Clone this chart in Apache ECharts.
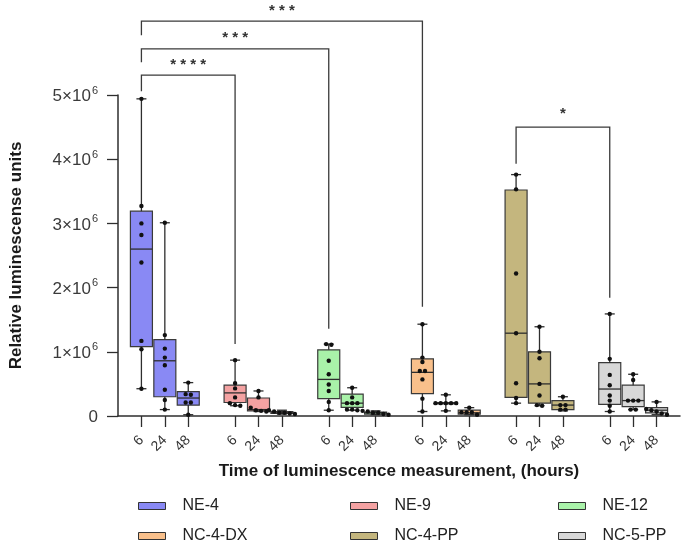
<!DOCTYPE html>
<html>
<head>
<meta charset="utf-8">
<script src="https://cdn.jsdelivr.net/npm/echarts@6/dist/echarts.min.js"></script>
<style>
  html, body { margin: 0; padding: 0; background: #fff; }
  #main { width: 685px; height: 549px; }
</style>
</head>
<body>
<div id="main"></div>
<script>
const groups = ['NE-4', 'NE-9', 'NE-12', 'NC-4-DX', 'NC-4-PP', 'NC-5-PP'];
const times = ['6', '24', '48'];
const yTickLabels = ['0', '1×10⁶', '2×10⁶', '3×10⁶', '4×10⁶', '5×10⁶'];
const boxColors = ['#8989f4', '#f4a2a2', '#a9f2a9', '#f9c08b', '#c4b67e', '#d8d8d8'];

// per time point: [min, Q1, median, Q3, max], units of 10^6 RLU
const ne4Stats = [[0.425, 1.08, 2.60, 3.19, 4.94], [0.10, 0.30, 0.86, 1.19, 3.01], [0.02, 0.17, 0.28, 0.38, 0.52]];
const ne9Stats = [[0.16, 0.21, 0.36, 0.48, 0.87], [0.07, 0.08, 0.10, 0.28, 0.39], [0.03, 0.04, 0.05, 0.07, 0.09]];
const ne12Stats = [[0.09, 0.27, 0.57, 1.03, 1.12], [0.09, 0.135, 0.20, 0.34, 0.44], [0.02, 0.03, 0.05, 0.06, 0.08]];
const nc4dxStats = [[0.07, 0.35, 0.68, 0.89, 1.43], [0.08, 0.19, 0.20, 0.21, 0.33], [0.02, 0.03, 0.05, 0.09, 0.13]];
const nc4ppStats = [[0.20, 0.29, 1.29, 3.52, 3.76], [0.16, 0.20, 0.50, 1.00, 1.39], [0.08, 0.10, 0.17, 0.24, 0.30]];
const nc5ppStats = [[0.07, 0.18, 0.42, 0.83, 1.59], [0.10, 0.145, 0.24, 0.48, 0.65], [0.02, 0.05, 0.09, 0.13, 0.22]];

// individual replicates
const ne4Points = [[4.94, 3.27, 3.00, 2.82, 2.39, 1.17, 1.04, 0.425], [3.01, 1.26, 1.05, 0.91, 0.79, 0.41, 0.25, 0.10], [0.52, 0.34, 0.33, 0.21, 0.21, 0.02]];
const ne9Points = [[0.87, 0.51, 0.43, 0.29, 0.20, 0.17, 0.16], [0.39, 0.29, 0.13, 0.09, 0.08, 0.07], [0.09, 0.07, 0.05, 0.05, 0.04, 0.03]];
const ne12Points = [[1.12, 1.11, 0.86, 0.65, 0.49, 0.39, 0.22, 0.09], [0.44, 0.29, 0.20, 0.20, 0.20, 0.10, 0.10, 0.09], [0.08, 0.07, 0.05, 0.05, 0.03, 0.02]];
const nc4dxPoints = [[1.43, 0.91, 0.84, 0.70, 0.70, 0.57, 0.27, 0.07], [0.33, 0.20, 0.20, 0.20, 0.20, 0.20, 0.08], [0.13, 0.06, 0.06, 0.06, 0.02]];
const nc4ppPoints = [[3.76, 3.53, 2.22, 1.29, 0.51, 0.28, 0.20], [1.39, 1.00, 0.90, 0.50, 0.32, 0.17, 0.16], [0.30, 0.17, 0.17, 0.10, 0.10]];
const nc5ppPoints = [[1.59, 0.89, 0.64, 0.48, 0.32, 0.24, 0.16, 0.07], [0.65, 0.56, 0.24, 0.24, 0.24, 0.10, 0.10], [0.22, 0.11, 0.09, 0.07, 0.04, 0.02]];

// significance brackets between 6 h boxes: [from group, to group]
const bracketPairs = [[0, 1], [0, 2], [0, 3], [4, 5]];
// [bar level, left leg end, right leg end, stars level]
const bracketLevels = [[5.31, 5.06, 1.12, 5.50], [5.72, 5.51, 1.36, 5.92], [6.15, 5.93, 1.70, 6.34], [4.50, 3.93, 1.84, 4.74]];
const bracketStars = ['* * * *', '* * *', '* * *', '*'];

const statsByGroup = [ne4Stats, ne9Stats, ne12Stats, nc4dxStats, nc4ppStats, nc5ppStats];
const pointsByGroup = [ne4Points, ne9Points, ne12Points, nc4dxPoints, nc4ppPoints, nc5ppPoints];

// x axis: blank slot at start, then 6h/24h/48h + blank for every group
const xCategories = [''];
groups.forEach(() => { times.forEach(t => xCategories.push(t)); xCategories.push(''); });
const catIndex = (g, t) => 1 + g * 4 + t;

const FONT = "'Liberation Sans', Arial, sans-serif";
const INK = '#2e2e2e';

function swarmOffsets(ys) {
  // spread dots that sit on the same height, like a column scatter
  const order = ys.map((y, i) => i).sort((a, b) => ys[a] - ys[b]);
  const offs = new Array(ys.length).fill(0);
  let cluster = [];
  const flush = () => {
    cluster.forEach((idx, k) => { offs[idx] = (k - (cluster.length - 1) / 2) * 5.2; });
    cluster = [];
  };
  order.forEach(idx => {
    if (cluster.length && ys[idx] - ys[cluster[cluster.length - 1]] > 3.5) flush();
    cluster.push(idx);
  });
  flush();
  return offs;
}

function boxRenderer(g) {
  return function (params, api) {
    const x = api.value(0);
    const lo = api.value(1), q1 = api.value(2), med = api.value(3), q3 = api.value(4), hi = api.value(5);
    const cx = api.coord([x, med])[0];
    const yOf = v => api.coord([x, v])[1];
    const half = api.size([1, 0])[0] * 0.47;
    const cap = 5;
    const line = { stroke: INK, lineWidth: 1.3 };
    const kids = [
      { type: 'rect', shape: { x: cx - half, y: yOf(q3), width: half * 2, height: Math.max(yOf(q1) - yOf(q3), 1) },
        style: { fill: api.visual('color'), stroke: '#3a3a3a', lineWidth: 1.2 } },
      { type: 'line', shape: { x1: cx - half, y1: yOf(med), x2: cx + half, y2: yOf(med) }, style: line },
      { type: 'line', shape: { x1: cx, y1: yOf(q3), x2: cx, y2: yOf(hi) }, style: line },
      { type: 'line', shape: { x1: cx, y1: yOf(q1), x2: cx, y2: yOf(lo) }, style: line },
      { type: 'line', shape: { x1: cx - cap, y1: yOf(hi), x2: cx + cap, y2: yOf(hi) }, style: line },
      { type: 'line', shape: { x1: cx - cap, y1: yOf(lo), x2: cx + cap, y2: yOf(lo) }, style: line }
    ];
    const pts = pointsByGroup[g][params.dataIndex];
    const ys = pts.map(yOf);
    const offs = swarmOffsets(ys);
    ys.forEach((py, i) => {
      kids.push({ type: 'circle', shape: { cx: cx + offs[i], cy: py, r: 2.2 }, style: { fill: '#111' } });
    });
    return { type: 'group', children: kids };
  };
}

const boxSeries = groups.map((name, g) => ({
  name: name,
  type: 'custom',
  itemStyle: { color: boxColors[g], borderColor: '#333', borderWidth: 1 },
  data: statsByGroup[g].map((s, t) => [catIndex(g, t)].concat(s)),
  encode: { x: 0, y: [1, 2, 3, 4, 5] },
  renderItem: boxRenderer(g),
  z: 2
}));

const bracketSeries = {
  type: 'custom',
  clip: false,
  silent: true,
  data: bracketPairs.map((p, i) => [catIndex(p[0], 0), catIndex(p[1], 0)].concat(bracketLevels[i])),
  encode: { x: [0, 1], y: [2] },
  renderItem: function (params, api) {
    const x1 = api.value(0), x2 = api.value(1);
    const a = api.coord([x1, api.value(2)]);
    const b = api.coord([x2, api.value(2)]);
    const yl = api.coord([x1, api.value(3)])[1];
    const yr = api.coord([x2, api.value(4)])[1];
    const ys = api.coord([x1, api.value(5)])[1];
    return {
      type: 'group',
      children: [
        { type: 'polyline', shape: { points: [[a[0], yl], [a[0], a[1]], [b[0], b[1]], [b[0], yr]] },
          style: { stroke: '#3a3a3a', lineWidth: 1.3, fill: null } },
        { type: 'text', style: { text: bracketStars[params.dataIndex], x: (a[0] + b[0]) / 2, y: ys + 2,
          align: 'center', verticalAlign: 'middle', font: 'bold 15px ' + FONT, fill: '#333' } }
      ]
    };
  },
  z: 3
};

const legendLefts = [138, 350, 558];
const legends = [0, 1, 2].map(c => ({
  orient: 'vertical',
  left: legendLefts[c],
  top: 498,
  padding: 0,
  icon: 'rect',
  itemWidth: 27,
  itemHeight: 7,
  itemGap: 14,
  selectedMode: false,
  data: [groups[c], groups[c + 3]],
  itemStyle: { borderColor: '#333', borderWidth: 1 },
  textStyle: { fontFamily: FONT, fontSize: 16, color: '#222', padding: [0, 0, 0, 12] }
}));

const chart = echarts.init(document.getElementById('main'), null, { renderer: 'canvas' });
chart.setOption({
  animation: false,
  backgroundColor: '#fff',
  textStyle: { fontFamily: FONT },
  legend: legends,
  grid: { left: 115, right: 5, top: 95, bottom: 133, containLabel: false },
  xAxis: {
    type: 'category',
    data: xCategories,
    boundaryGap: false,
    name: 'Time of luminescence measurement, (hours)',
    nameLocation: 'middle',
    nameGap: 47,
    nameTextStyle: { fontFamily: FONT, fontSize: 17, fontWeight: 'bold', color: '#1a1a1a' },
    axisLine: { lineStyle: { color: INK, width: 1.5 } },
    axisTick: { length: 11, lineStyle: { color: INK, width: 1.3 }, interval: (i, v) => v !== '' },
    axisLabel: { interval: 0, rotate: 45, margin: 22, fontSize: 14, color: '#333', fontFamily: FONT },
    splitLine: { show: false }
  },
  yAxis: {
    type: 'value',
    min: 0,
    max: 5,
    interval: 1,
    name: 'Relative luminescense units',
    nameLocation: 'middle',
    nameGap: 93,
    nameTextStyle: { fontFamily: FONT, fontSize: 17, fontWeight: 'bold', color: '#1a1a1a' },
    axisLine: { show: true, lineStyle: { color: INK, width: 1.5 } },
    axisTick: { show: true, length: 11, lineStyle: { color: INK, width: 1.3 } },
    splitLine: { show: false },
    axisLabel: {
      margin: 20,
      formatter: v => {
        const s = yTickLabels[Math.round(v)] || '';
        return s.endsWith('⁶') ? '{base|' + s.slice(0, -1) + '}{sup|6}' : '{base|' + s + '}';
      },
      rich: {
        base: { fontSize: 17, color: '#3a3a3a', fontFamily: FONT, lineHeight: 20, verticalAlign: 'bottom' },
        sup: { fontSize: 11, color: '#3a3a3a', fontFamily: FONT, verticalAlign: 'top', lineHeight: 11, padding: [0, 0, 0, 1] }
      }
    }
  },
  series: boxSeries.concat([bracketSeries])
});
</script>
</body>
</html>
